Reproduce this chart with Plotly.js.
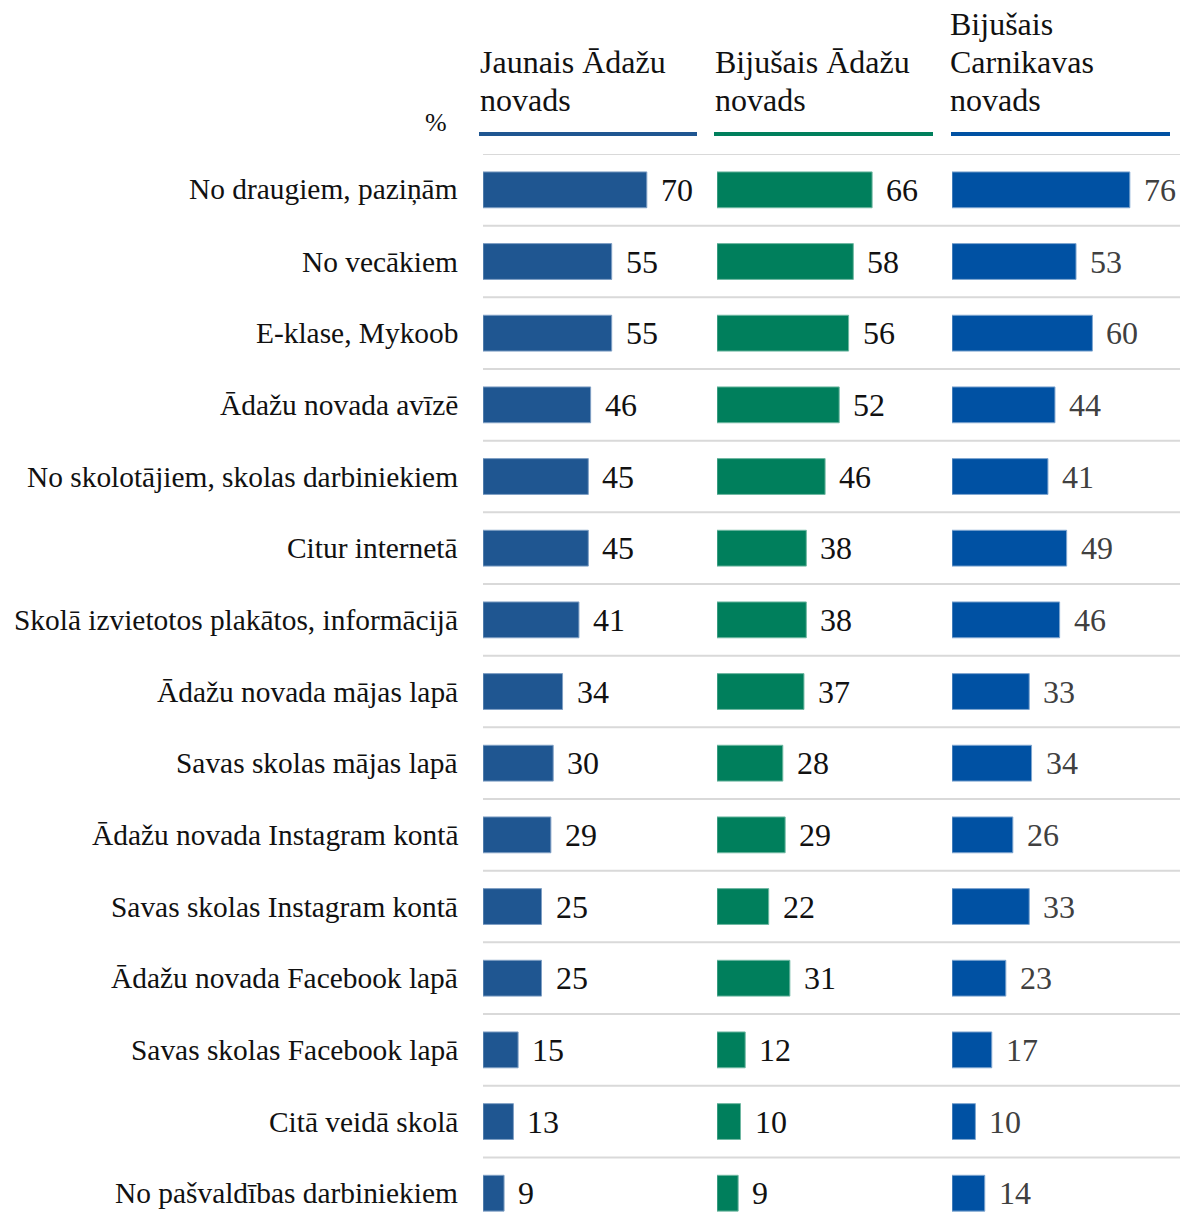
<!DOCTYPE html>
<html>
<head>
<meta charset="utf-8">
<script src="https://cdn.plot.ly/plotly-3.0.1.min.js"></script>
<style>html,body{margin:0;padding:0;background:#fff;}#chart{width:1180px;height:1224px;}</style>
</head>
<body>
<div id="chart"></div>
<script>
const categories = [
  "No draugiem, paziņām",
  "No vecākiem",
  "E-klase, Mykoob",
  "Ādažu novada avīzē",
  "No skolotājiem, skolas darbiniekiem",
  "Citur internetā",
  "Skolā izvietotos plakātos, informācijā",
  "Ādažu novada mājas lapā",
  "Savas skolas mājas lapā",
  "Ādažu novada Instagram kontā",
  "Savas skolas Instagram kontā",
  "Ādažu novada Facebook lapā",
  "Savas skolas Facebook lapā",
  "Citā veidā skolā",
  "No pašvaldības darbiniekiem"
];
const jaunais = [70, 55, 55, 46, 45, 45, 41, 34, 30, 29, 25, 25, 15, 13, 9];
const bijusaisAdazu = [66, 58, 56, 52, 46, 38, 38, 37, 28, 29, 22, 31, 12, 10, 9];
const bijusaisCarnikavas = [76, 53, 60, 44, 41, 49, 46, 33, 34, 26, 33, 23, 17, 10, 14];
const panelTitle1 = ["Jaunais Ādažu", "novads"];
const panelTitle2 = ["Bijušais Ādažu", "novads"];
const panelTitle3 = ["Bijušais", "Carnikavas", "novads"];
const unitLabel = "%";

const FONT = '"Liberation Serif", "Times New Roman", serif';
const W = 1180, H = 1224, L = 483, T = 154;
const plotW = W - L, plotH = H - T;
const px2paperX = p => (p - L) / plotW;
const px2paperY = p => 1 + (T - p) / plotH;

const colors = ["#1f5691", "#007f5c", "#0051a3"];
const lineColors = ["#7f9fc4", "#6fb8a2", "#7fa6d0"];
const valColors = ["#111111", "#111111", "#404040"];
const series = [jaunais, bijusaisAdazu, bijusaisCarnikavas];
const titles = [panelTitle1, panelTitle2, panelTitle3];
const axisIds = ["x", "x2", "x3"];

const traces = series.map((vals, i) => ({
  type: "bar",
  orientation: "h",
  y: categories,
  x: vals,
  xaxis: axisIds[i],
  yaxis: "y",
  width: 0.5,
  marker: {color: colors[i], line: {color: lineColors[i], width: 1}},
  hoverinfo: "skip",
  showlegend: false
}));

const annotations = [];
series.forEach((vals, i) => {
  vals.forEach((v, j) => {
    annotations.push({
      xref: axisIds[i], yref: "y", x: v, y: categories[j],
      text: String(v), showarrow: false, xanchor: "left", yanchor: "middle",
      xshift: 12, font: {family: FONT, size: 32, color: valColors[i]}
    });
  });
});
categories.forEach(c => {
  annotations.push({
    xref: "paper", yref: "y", x: 0, y: c, text: c, showarrow: false,
    xanchor: "right", yanchor: "middle", xshift: -23,
    font: {family: FONT, size: 29.4, color: "#111111"}
  });
});
const titleX = [478, 713, 948];
titles.forEach((lines, i) => {
  const n = lines.length;
  lines.forEach((ln, k) => {
    const yc = 100 - (n - 1 - k) * 38;
    annotations.push({
      xref: "paper", yref: "paper", x: px2paperX(titleX[i]), y: px2paperY(yc),
      text: ln, showarrow: false, xanchor: "left", yanchor: "middle", align: "left",
      font: {family: FONT, size: 32, color: "#111111"}
    });
  });
});
annotations.push({
  xref: "paper", yref: "paper", x: px2paperX(436), y: px2paperY(122),
  text: unitLabel, showarrow: false, xanchor: "center", yanchor: "middle",
  font: {family: FONT, size: 26, color: "#111111"}
});

const shapes = [];
for (let i = 0; i <= categories.length; i++) {
  shapes.push({
    type: "line", xref: "paper", yref: "y",
    x0: 0, x1: 1, y0: i - 0.5, y1: i - 0.5,
    line: {color: "#d9d9d9", width: 2}, layer: "below"
  });
}
const ulines = [[479, 697], [714, 933], [951, 1170]];
ulines.forEach((u, i) => {
  shapes.push({
    type: "line", xref: "paper", yref: "paper",
    x0: px2paperX(u[0]), x1: px2paperX(u[1]), y0: px2paperY(134), y1: px2paperY(134),
    line: {color: colors[i], width: 4}
  });
});

const d1 = px2paperX(717), d2 = px2paperX(952);
const hidden = {visible: false, fixedrange: true};
const layout = {
  width: W, height: H,
  margin: {l: L, r: 0, t: T, b: 0, pad: 0},
  paper_bgcolor: "#ffffff", plot_bgcolor: "#ffffff",
  font: {family: FONT},
  xaxis: Object.assign({domain: [0, d1], range: [0, 100]}, hidden),
  xaxis2: Object.assign({domain: [d1, d2], range: [0, 100]}, hidden),
  xaxis3: Object.assign({domain: [d2, 1], range: [0, (W - 952) / 2.34]}, hidden),
  yaxis: {
    type: "category", categoryorder: "array", categoryarray: categories,
    range: [-0.5 + plotH / 71.67, -0.5],
    showticklabels: false, showgrid: false, zeroline: false, showline: false, ticks: "", fixedrange: true
  },
  annotations: annotations,
  shapes: shapes
};

Plotly.newPlot("chart", traces, layout, {displayModeBar: false, staticPlot: true});
</script>
</body>
</html>
